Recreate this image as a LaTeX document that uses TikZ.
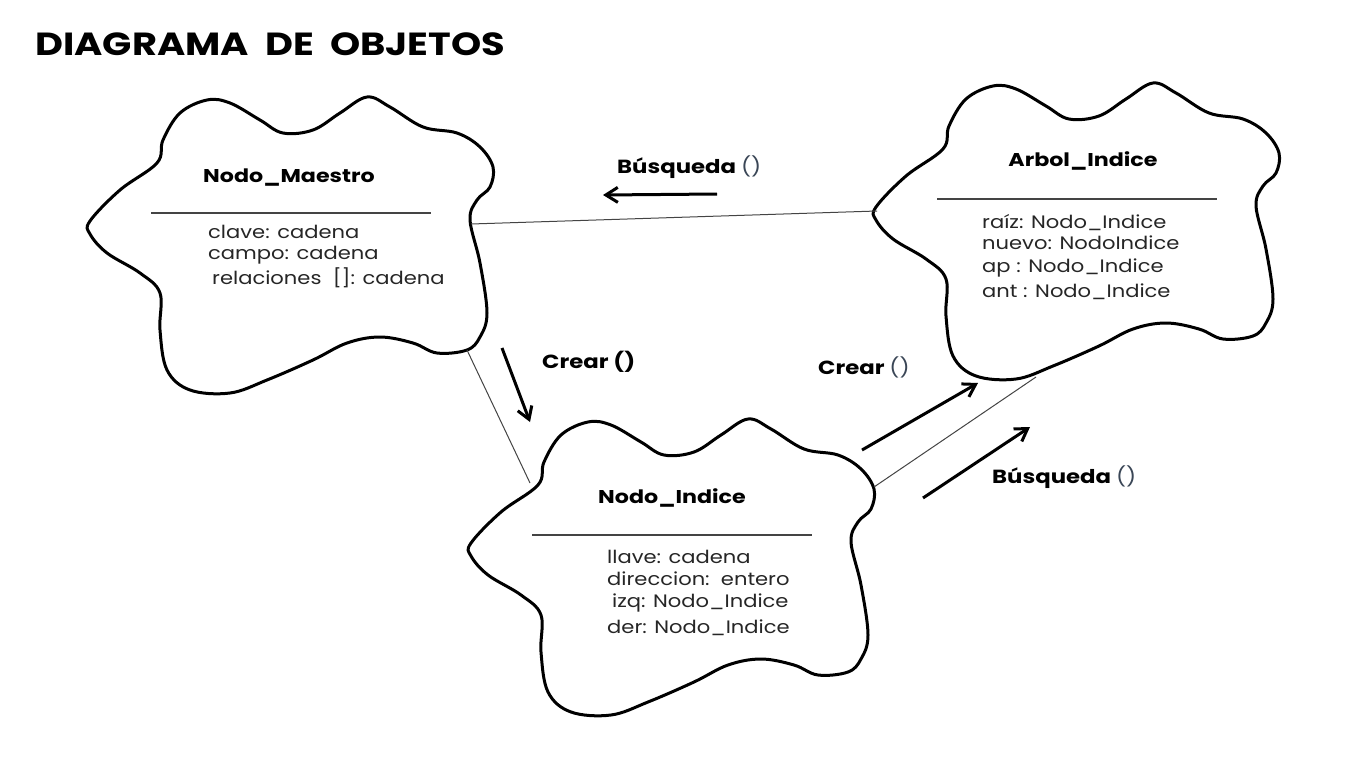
\documentclass[tikz,border=0pt]{standalone}
\usepackage{fontspec}
\setmainfont{Poppins}[FakeStretch=1.17, BoldFeatures={FakeStretch=1.2}]
\usetikzlibrary{arrows.meta}
\definecolor{sepgray}{HTML}{444444}
\definecolor{attrgray}{HTML}{262626}
\definecolor{parengray}{HTML}{3A4656}
\tikzset{
  cloudline/.style={line width=3pt, black, line join=round},
  sepline/.style={line width=2pt, sepgray},
  linkline/.style={line width=1pt, sepgray},
  msgarrow/.style={line width=3pt, black, -{Straight Barb[length=12pt,width=15pt]}},
  titletext/.style={inner sep=0pt, anchor=base, font=\fontsize{18.5}{20}\selectfont\bfseries},
  attrtext/.style={inner sep=0pt, anchor=base west, text=attrgray, font=\fontsize{18}{19}\selectfont},
  msgtext/.style={inner sep=0pt, anchor=base west, font=\fontsize{19}{20}\selectfont\bfseries},
  objcloud/.pic={
    \draw[cloudline] plot[smooth cycle, tension=0.6] coordinates {
      (0,124) (30,93) (67,66) (73,43) (90,16) (117,3) (140,6) (170,23) (193,36)
      (223,33) (250,16) (277,0) (300,10) (333,30) (367,36) (390,50) (403,70)
      (400,90) (387,103) (380,123) (390,166) (397,216) (390,240) (377,253)
      (347,256) (323,246) (290,240) (257,246) (223,263) (177,283) (140,296)
      (100,293) (77,273) (70,233) (70,196) (50,176) (17,156) (0,137)};
    \draw[sepline] (61,116) -- (341,116);
    \coordinate (-w) at (1,128);
    \coordinate (-e) at (381,127);
    \coordinate (-se) at (377,253);
    \coordinate (-nw) at (59,64);
    \coordinate (-ne) at (403,68);
    \coordinate (-s) at (160,294);
  }
}
\begin{document}
\begin{tikzpicture}[x=1pt,y=-1pt]
\useasboundingbox (0,0) rectangle (1368,769);
\fill[white] (0,0) rectangle (1368,769);

\node[inner sep=0pt, anchor=base west, font=\fontsize{32}{36}\selectfont\bfseries] (title) at (35,55) {DIAGRAMA\ \ DE\ \ OBJETOS};

% clouds
\pic (M) at (90,97) {objcloud};
\pic (A) at (876,83) {objcloud};
\pic (I) at (471,419) {objcloud};

% Nodo_Maestro
\node[titletext] (Mt) at (289,182) {Nodo\_Maestro};
\node[attrtext] (Ma1) at (208,238) {clave: cadena};
\node[attrtext] (Ma2) at (208,259) {campo: cadena};
\node[attrtext] (Ma3) at (212,284) {relaciones\ \ []: cadena};

% Arbol_Indice
\node[titletext] (At) at (1083,166) {Arbol\_Indice};
\node[attrtext] (Aa1) at (982,228) {raíz: Nodo\_Indice};
\node[attrtext] (Aa2) at (982,249) {nuevo: NodoIndice};
\node[attrtext] (Aa3) at (982,272) {ap : Nodo\_Indice};
\node[attrtext] (Aa4) at (982,297) {ant : Nodo\_Indice};

% Nodo_Indice
\node[titletext] (It) at (672,503) {Nodo\_Indice};
\node[attrtext] (Ia1) at (607,563) {llave: cadena};
\node[attrtext] (Ia2) at (607,585) {direccion:\ \ entero};
\node[attrtext] (Ia3) at (612,607) {izq: Nodo\_Indice};
\node[attrtext] (Ia4) at (607,633) {der: Nodo\_Indice};

% links
\draw[linkline] (M-e) -- (A-w);
\draw[linkline] (M-se) -- (I-nw);
\draw[linkline] (I-ne) -- (A-s);

% message arrows
\coordinate (b1s) at (717,194); \coordinate (b1e) at (603,195);
\coordinate (c1s) at (502,348); \coordinate (c1e) at (530,422);
\coordinate (c2s) at (862,450); \coordinate (c2e) at (978,383);
\coordinate (b2s) at (923,498); \coordinate (b2e) at (1030,427);
\draw[msgarrow] (b1s) -- (b1e);
\draw[msgarrow] (c1s) -- (c1e);
\draw[msgarrow] (c2s) -- (c2e);
\draw[msgarrow] (b2s) -- (b2e);

\node[msgtext] (lb1) at (617,173) {Búsqueda {\mdseries\color{parengray}()}};
\node[msgtext] (lc1) at (542,368) {Crear ()};
\node[msgtext] (lc2) at (818,374) {Crear {\mdseries\color{parengray}()}};
\node[msgtext] (lb2) at (992,483) {Búsqueda {\mdseries\color{parengray}()}};
\end{tikzpicture}
\end{document}
